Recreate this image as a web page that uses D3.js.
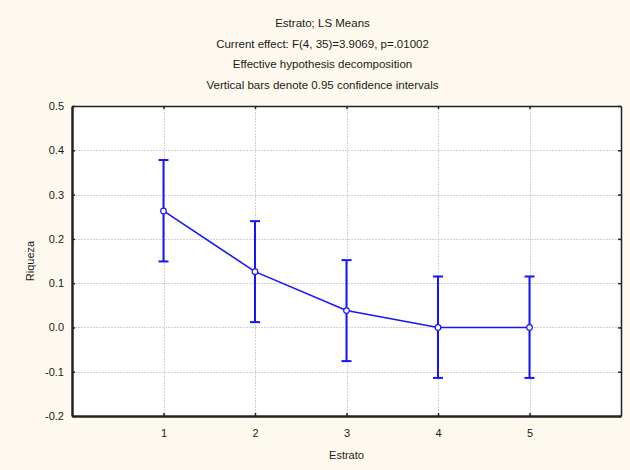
<!DOCTYPE html>
<html>
<head>
<meta charset="utf-8">
<script src="https://cdn.jsdelivr.net/npm/d3@7"></script>
<style>
  html, body { margin: 0; padding: 0; background: #fef9ee; }
  svg { display: block; }
  text { font-family: "Liberation Sans", Arial, sans-serif; fill: #1a1a1a; }
</style>
</head>
<body>
<svg id="chart" width="630" height="470"></svg>
<script>
// LS means of Riqueza by Estrato, with 0.95 confidence limits
const estratos = [1, 2, 3, 4, 5];
const means = [0.263, 0.126, 0.038, 0.000, 0.000];
const lower = [0.149, 0.012, -0.076, -0.114, -0.114];
const upper = [0.378, 0.240, 0.152, 0.115, 0.115];
const yTicks = [-0.2, -0.1, 0.0, 0.1, 0.2, 0.3, 0.4, 0.5];
const titleLines = [
  "Estrato; LS Means",
  "Current effect: F(4, 35)=3.9069, p=.01002",
  "Effective hypothesis decomposition",
  "Vertical bars denote 0.95 confidence intervals"
];

const svg = d3.select("#chart");
const W = 630, H = 470;
const m = { left: 72, right: 9, top: 106, bottom: 54 };
const pw = W - m.left - m.right, ph = H - m.top - m.bottom;

const x = d3.scaleLinear().domain([0, 6]).range([m.left, m.left + pw]);
const y = d3.scaleLinear().domain([-0.2, 0.5]).range([m.top + ph, m.top]);

// plot area
svg.append("rect").attr("x", m.left).attr("y", m.top)
  .attr("width", pw).attr("height", ph).attr("fill", "#ffffff");

// grid
const grid = svg.append("g").attr("stroke", "#d2d2d2").attr("stroke-width", 1)
  .attr("stroke-dasharray", "2,1").attr("shape-rendering", "crispEdges");
grid.selectAll("line.gy").data(yTicks.slice(1, -1)).join("line")
  .attr("x1", m.left).attr("x2", m.left + pw)
  .attr("y1", d => Math.round(y(d)) + 0.5).attr("y2", d => Math.round(y(d)) + 0.5);
grid.selectAll("line.gx").data(estratos).join("line")
  .attr("y1", m.top).attr("y2", m.top + ph)
  .attr("x1", d => Math.round(x(d)) + 0.5).attr("x2", d => Math.round(x(d)) + 0.5);

// axes with inward ticks
const fmt = d => d3.format(".1f")(d).replace("\u2212", "-");
const axL = svg.append("g").attr("transform", `translate(${m.left},0)`)
  .call(d3.axisLeft(y).tickValues(yTicks).tickFormat(fmt).tickSizeInner(-3).tickSizeOuter(0).tickPadding(8));
const axR = svg.append("g").attr("transform", `translate(${m.left + pw},0)`)
  .call(d3.axisRight(y).tickValues(yTicks).tickFormat("").tickSizeInner(-3).tickSizeOuter(0));
const axB = svg.append("g").attr("transform", `translate(0,${m.top + ph})`)
  .call(d3.axisBottom(x).tickValues(estratos).tickFormat(d3.format("d")).tickSizeInner(-3).tickSizeOuter(0).tickPadding(13));
const axT = svg.append("g").attr("transform", `translate(0,${m.top})`)
  .call(d3.axisTop(x).tickValues(estratos).tickFormat("").tickSizeInner(-3).tickSizeOuter(0));

[axL, axR, axB, axT].forEach(a => {
  a.selectAll(".tick line").attr("stroke", "#222").attr("stroke-width", 1.5);
  a.selectAll("text").attr("font-size", 11).attr("font-family", "Liberation Sans, Arial, sans-serif").attr("fill", "#1a1a1a");
  a.select(".domain").attr("stroke", "#222");
});
axL.select(".domain").attr("stroke-width", 2.5);
axB.select(".domain").attr("stroke-width", 2.5);
axR.select(".domain").attr("stroke-width", 1.5);
axT.select(".domain").attr("stroke-width", 1.5);

// error bars
const blue = "#1515ff";
const eb = svg.append("g").attr("stroke", blue).attr("stroke-width", 2);
estratos.forEach((e, i) => {
  eb.append("line").attr("x1", x(e)).attr("x2", x(e)).attr("y1", y(lower[i])).attr("y2", y(upper[i]));
  eb.append("line").attr("x1", x(e) - 5).attr("x2", x(e) + 5).attr("y1", y(lower[i])).attr("y2", y(lower[i]));
  eb.append("line").attr("x1", x(e) - 5).attr("x2", x(e) + 5).attr("y1", y(upper[i])).attr("y2", y(upper[i]));
});

// mean line and markers
svg.append("path")
  .datum(estratos.map((e, i) => [e, means[i]]))
  .attr("fill", "none").attr("stroke", blue).attr("stroke-width", 1.6)
  .attr("d", d3.line().x(d => x(d[0])).y(d => y(d[1])));
svg.selectAll("circle.pt").data(estratos).join("circle")
  .attr("cx", d => x(d)).attr("cy", (d, i) => y(means[i])).attr("r", 2.8)
  .attr("fill", "#fff").attr("stroke", blue).attr("stroke-width", 1.2);

// titles
svg.selectAll("text.title").data(titleLines).join("text")
  .attr("x", m.left + pw / 2 - 24).attr("y", (d, i) => 27 + i * 20.6)
  .attr("text-anchor", "middle").attr("font-size", 11.5).text(d => d);

// axis titles
svg.append("text").attr("x", m.left + pw / 2).attr("y", 459)
  .attr("text-anchor", "middle").attr("font-size", 11).text("Estrato");
svg.append("text").attr("transform", `translate(34,${m.top + ph / 2}) rotate(-90)`)
  .attr("text-anchor", "middle").attr("font-size", 11).text("Riqueza");
</script>
</body>
</html>
